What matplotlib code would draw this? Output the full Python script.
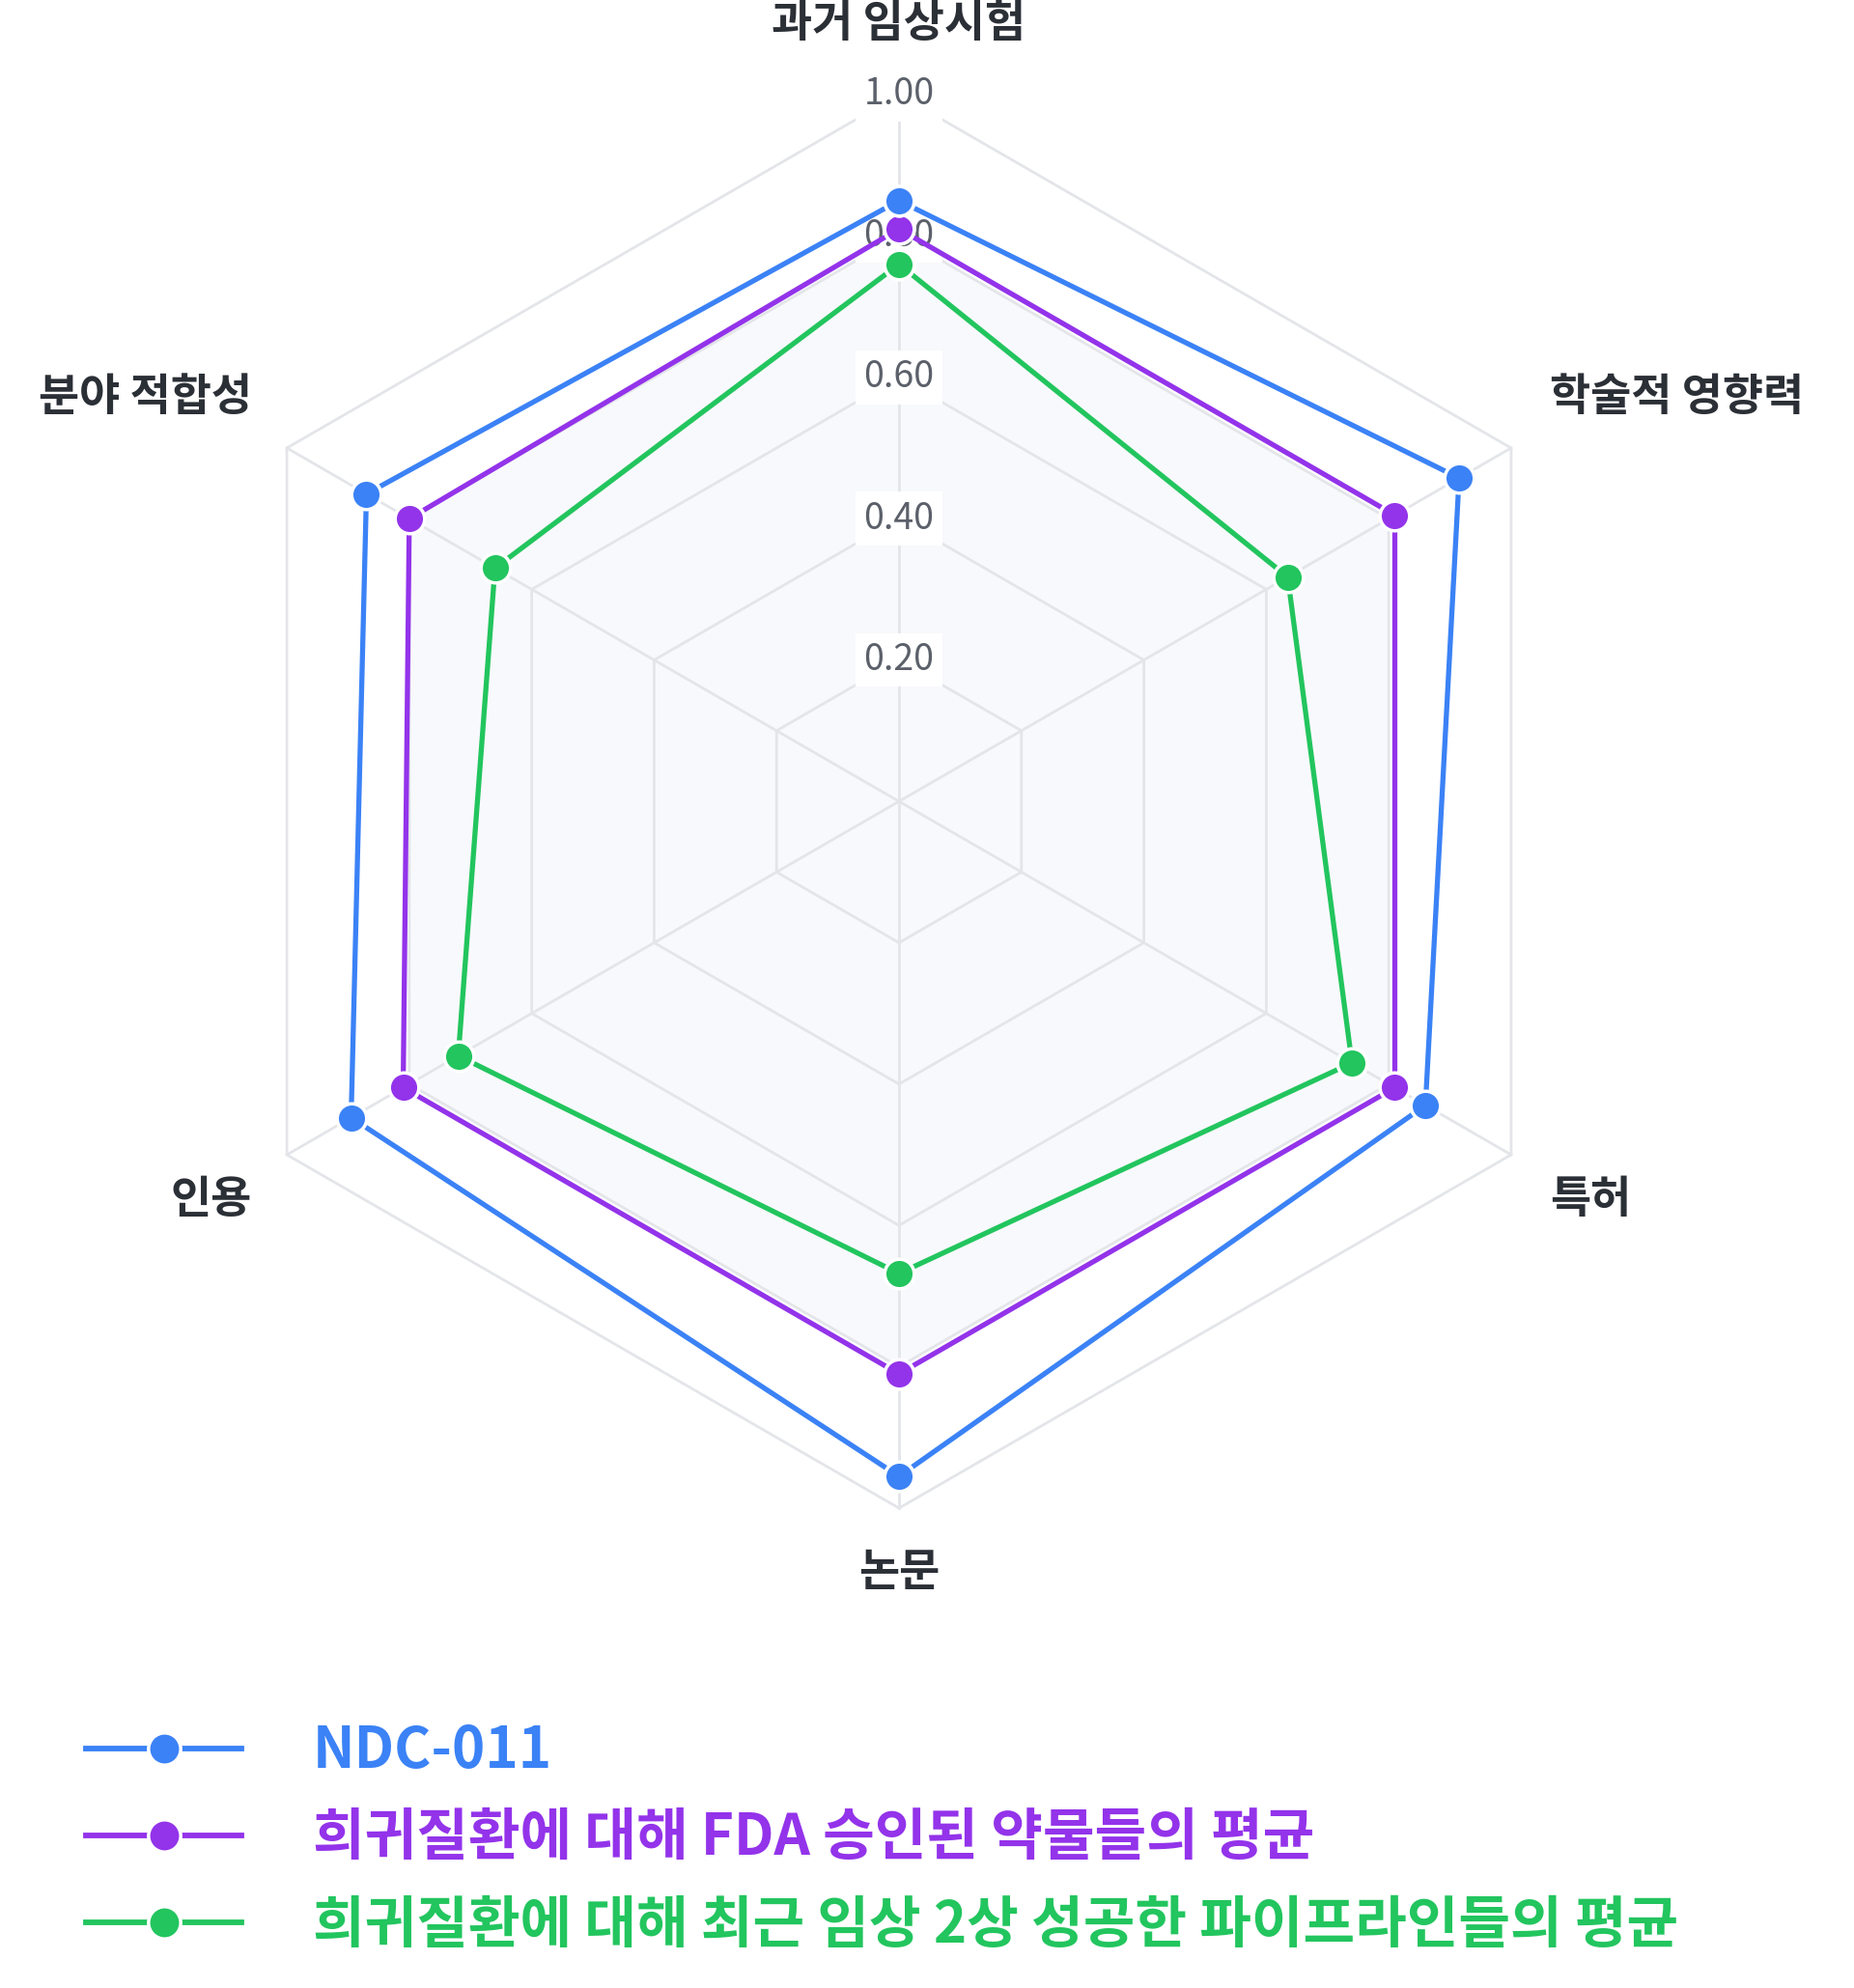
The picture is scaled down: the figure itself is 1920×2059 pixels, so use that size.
import numpy as np
import matplotlib
matplotlib.use("Agg")
import matplotlib.pyplot as plt

plt.rcParams['font.family'] = ['Noto Sans CJK KR', 'DejaVu Sans']

# ---- data ----
categories = ['과거 임상시험', '학술적 영향력', '특허', '논문', '인용', '분야 적합성']
series_names = ['NDC-011',
                '희귀질환에 대해 FDA 승인된 약물들의 평균',
                '희귀질환에 대해 최근 임상 2상 성공한 파이프라인들의 평균']
ndc_values = [0.85, 0.915, 0.86, 0.955, 0.895, 0.87]
fda_values = [0.81, 0.81, 0.81, 0.81, 0.81, 0.80]
phase2_values = [0.76, 0.635, 0.74, 0.668, 0.72, 0.66]
tick_values = [0.2, 0.4, 0.6, 0.8, 1.0]
tick_labels = ['0.20', '0.40', '0.60', '0.80', '1.00']

colors = ['#3b82f6', '#9333ea', '#22c55e']
grid_color = '#e3e5e9'
label_color = '#2b2f36'
tick_color = '#5b606a'

fig = plt.figure(figsize=(19.2, 20.59), dpi=100)
cx, cy, R = 931, 830, 732
W, H = 1920, 2059
ax = fig.add_axes([(cx - R) / W, (H - cy - R) / H, 2 * R / W, 2 * R / H], projection='polar')
ax.set_theta_zero_location('N')
ax.set_theta_direction(-1)
ax.set_ylim(0, 1)
ax.set_axis_off()

n = len(categories)
theta = np.linspace(0, 2 * np.pi, n, endpoint=False)
theta_c = np.append(theta, theta[0])

# background fill inside 0.8 ring
ax.fill(theta_c, [tick_values[3]] * (n + 1), color='#f8f9fc', zorder=0, clip_on=False)

# hexagonal grid
for lv in tick_values:
    ax.plot(theta_c, [lv] * (n + 1), color=grid_color, lw=2.0, zorder=1, clip_on=False)
for t in theta:
    ax.plot([t, t], [0, 1], color=grid_color, lw=2.0, zorder=1, clip_on=False)

# tick labels
for lv, tl in zip(tick_values, tick_labels):
    ax.text(0, lv, tl, ha='center', va='center', fontsize=27, color=tick_color,
            zorder=2, bbox=dict(boxstyle='square,pad=0.22', fc='white', ec='none'))

# series
handles = []
for i, (vals, c, name) in enumerate(zip([ndc_values, fda_values, phase2_values], colors, series_names)):
    v = np.append(vals, vals[0])
    h, = ax.plot(theta_c, v, color=c, lw=3.8, marker='o', ms=22, mfc=c, mec='white',
                 mew=2.5, zorder=6 - i, clip_on=False, label=name)
    handles.append(h)

# category labels
offsets = [(0, 73, 'center', 'center'),
           (40, 52, 'left', 'center'),
           (40, -47, 'left', 'center'),
           (0, -67, 'center', 'center'),
           (-36, -47, 'right', 'center'),
           (-36, 52, 'right', 'center')]
for t, lab, (dx, dy, ha, va) in zip(theta, categories, offsets):
    ax.annotate(lab, xy=(t, 1.0), xytext=(dx, dy), textcoords='offset pixels',
                ha=ha, va=va, fontsize=33, fontweight='bold', color=label_color,
                annotation_clip=False)

# legend
leg = fig.legend(handles=handles, labels=series_names, loc='upper left',
                 bbox_to_anchor=(89 / W, 1 - 1784 / H), frameon=False,
                 prop={'size': 42, 'weight': 'bold'},
                 handlelength=2.76, handletextpad=1.27, labelspacing=0.52,
                 borderpad=0, borderaxespad=0)
for txt, c in zip(leg.get_texts(), colors):
    txt.set_color(c)
for lh in leg.get_lines():
    lh.set_linewidth(4.2)
    lh.set_markersize(24)

fig.savefig('out.png', dpi=100, facecolor='white')
